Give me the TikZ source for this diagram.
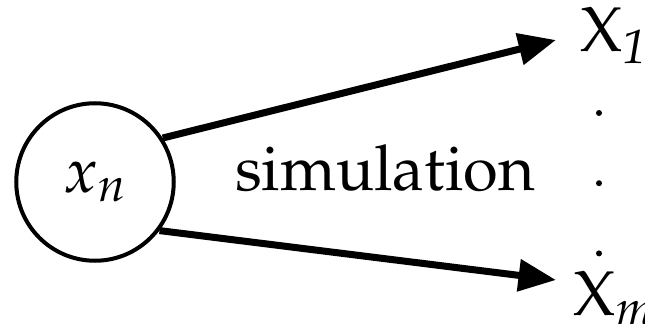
\documentclass[tikz,border=0pt]{standalone}
\usepackage[T1]{fontenc}
\usepackage{mathpazo}
\usepackage{tikz}
\usetikzlibrary{arrows.meta, positioning}

\begin{document}
\begin{tikzpicture}[
    state/.style={circle, draw=black, line width=0.08cm, minimum size=3.15cm, inner sep=0pt, font=\fontsize{36}{42}\selectfont},
    lbl/.style={inner sep=0pt, font=\fontsize{36}{42}\selectfont},
    pt/.style={circle, fill=black, inner sep=0pt, minimum size=0.12cm},
    arrow/.style={line width=0.14cm, -{Triangle[length=0.75cm, width=0.62cm]}}
]
\useasboundingbox (0,0) rectangle (12.9,6.46);
\node (xn) [state] at (1.9,2.82) {$x_n$};
\node (sim) [lbl, anchor=base] at (7.7,2.66) {simulation};
\node (x1) [lbl, anchor=base west] at (11.6,5.42) {X$_{\mathit{1}}{}'$};
\node (xm) [lbl, anchor=base west] at (11.46,0.16) {X$_{m}{}'$};
\node (d1) [pt] at (11.98,4.2) {};
\node (d2) [pt, below=1.27cm of d1] {};
\node (d3) [pt, below=1.27cm of d2] {};
\coordinate (tip1) at (11.12,5.66);
\coordinate (tip2) at (11.12,0.86);
\draw [arrow] (xn.33) -- (tip1);
\draw [arrow] (xn.-37) -- (tip2);
\end{tikzpicture}
\end{document}
